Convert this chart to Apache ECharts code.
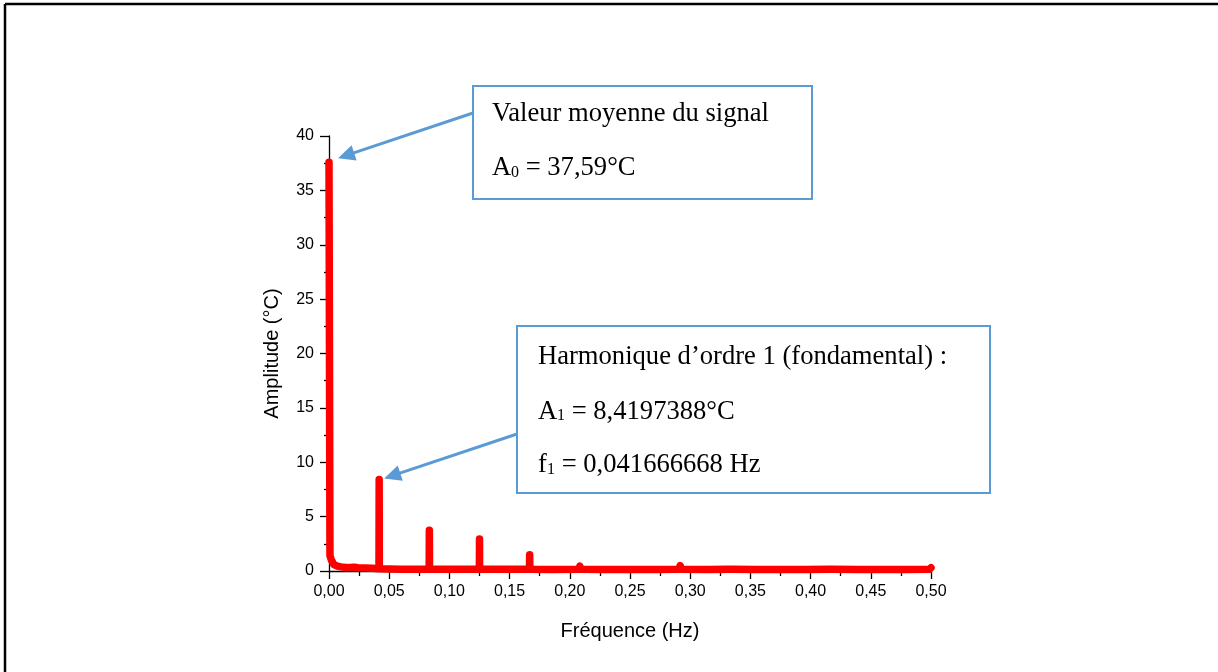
<!DOCTYPE html>
<html>
<head>
<meta charset="utf-8">
<script src="https://cdn.jsdelivr.net/npm/echarts@6/dist/echarts.min.js"></script>
<style>
  html, body { margin: 0; padding: 0; background: #ffffff; }
  #chart { width: 1218px; height: 672px; }
</style>
</head>
<body>
<div id="chart"></div>
<script>
// Amplitude spectrum of the temperature signal (frequency in Hz, amplitude in °C)
const freqHz = [
  0, 0.0008, 0.002, 0.004, 0.007, 0.010, 0.014, 0.018, 0.021, 0.024, 0.030, 0.036,
  0.0415, 0.041666668, 0.0418,
  0.050, 0.060, 0.070,
  0.0832, 0.08333, 0.0835,
  0.095, 0.110,
  0.1249, 0.125, 0.1251,
  0.140, 0.155,
  0.1665, 0.16667, 0.1668,
  0.185,
  0.2075, 0.20833, 0.2092,
  0.230,
  0.2492, 0.25, 0.2508,
  0.270,
  0.2908, 0.29167, 0.2925,
  0.315,
  0.3325, 0.33333, 0.3342,
  0.355,
  0.3742, 0.375, 0.3758,
  0.395,
  0.4158, 0.41667, 0.4175,
  0.440,
  0.4575, 0.45833, 0.4592,
  0.480, 0.4985, 0.500
];
const amplitudeC = [
  37.59, 1.4, 1.0, 0.6, 0.45, 0.38, 0.33, 0.32, 0.35, 0.30, 0.27, 0.25,
  0.20, 8.4197388, 0.20,
  0.18, 0.16, 0.17,
  0.17, 3.75, 0.17,
  0.15, 0.16,
  0.16, 2.95, 0.16,
  0.15, 0.15,
  0.15, 1.50, 0.15,
  0.14,
  0.15, 0.45, 0.15,
  0.14,
  0.14, 0.24, 0.14,
  0.14,
  0.15, 0.50, 0.15,
  0.14,
  0.15, 0.33, 0.15,
  0.14,
  0.14, 0.28, 0.14,
  0.14,
  0.15, 0.33, 0.15,
  0.14,
  0.14, 0.28, 0.14,
  0.14, 0.15, 0.30
];

// Axis ranges: [min, max, step]
const xRange = [0, 0.5, 0.05];
const yRange = [0, 40, 5];

// Annotated values
const meanValue = { f: 0, a: 37.59, title: 'Valeur moyenne du signal', sym: 'A', sub: '0', rest: ' = 37,59°C' };
const fundamental = {
  f: 0.041666668, a: 8.4197388,
  title: 'Harmonique d\u2019ordre 1 (fondamental) :',
  lineA: { sym: 'A', sub: '1', rest: ' = 8,4197388°C' },
  lineF: { sym: 'f', sub: '1', rest: ' = 0,041666668 Hz' }
};

const BLUE = '#5B9BD5';
const SANS = '"Liberation Sans", Arial, sans-serif';
const SERIF = '"Liberation Serif", "Times New Roman", serif';
const NOTE_SIZE = 26.6;

const chart = echarts.init(document.getElementById('chart'), null, { renderer: 'canvas' });

const seriesData = freqHz.map((f, i) => [f, amplitudeC[i]]);

chart.setOption({
  animation: false,
  backgroundColor: '#ffffff',
  grid: { left: 329, right: 287, top: 136, bottom: 101, containLabel: false },
  xAxis: {
    type: 'value',
    min: xRange[0], max: xRange[1], interval: xRange[2],
    name: 'Fréquence (Hz)',
    nameLocation: 'middle',
    nameGap: 50,
    nameTextStyle: { fontFamily: SANS, fontSize: 20, color: '#000' },
    axisLine: { onZero: false, lineStyle: { color: '#000', width: 1.3 } },
    axisTick: { show: true, inside: false, length: 8, lineStyle: { color: '#000', width: 1.3 } },
    minorTick: { show: true, splitNumber: 2, length: 5, lineStyle: { color: '#000', width: 1.3 } },
    splitLine: { show: false },
    axisLabel: {
      margin: 13, fontFamily: SANS, fontSize: 16, color: '#000',
      formatter: v => v.toFixed(2).replace('.', ',')
    }
  },
  yAxis: {
    type: 'value',
    min: yRange[0], max: yRange[1], interval: yRange[2],
    name: 'Amplitude (°C)',
    nameLocation: 'middle',
    nameGap: 47,
    nameTextStyle: { fontFamily: SANS, fontSize: 20, color: '#000' },
    axisLine: { show: true, lineStyle: { color: '#000', width: 1.3 } },
    axisTick: { show: true, inside: false, length: 9, lineStyle: { color: '#000', width: 1.3 } },
    minorTick: { show: true, splitNumber: 2, length: 5, lineStyle: { color: '#000', width: 1.3 } },
    splitLine: { show: false },
    axisLabel: { margin: 15, fontFamily: SANS, fontSize: 16, color: '#000' }
  },
  series: [{
    type: 'line',
    data: seriesData,
    showSymbol: false,
    symbol: 'none',
    clip: true,
    lineStyle: { color: '#ff0000', width: 7.5, cap: 'round', join: 'round' },
    z: 3
  }]
});

// Arrow (shaft + head) from (x0, y0) to the tip (x1, y1)
function arrow(x0, y0, x1, y1) {
  const dx = x1 - x0, dy = y1 - y0;
  const len = Math.hypot(dx, dy);
  const ux = dx / len, uy = dy / len;
  const head = 17, half = 8;
  const bx = x1 - ux * head, by = y1 - uy * head;
  return [
    { type: 'line', z: 10, shape: { x1: x0, y1: y0, x2: bx + ux * 2, y2: by + uy * 2 },
      style: { stroke: BLUE, lineWidth: 3 } },
    { type: 'polygon', z: 10,
      shape: { points: [[x1, y1], [bx - uy * half, by + ux * half], [bx + uy * half, by - ux * half]] },
      style: { fill: BLUE } }
  ];
}

function box(x, y, w, h) {
  return { type: 'rect', z: 10, shape: { x, y, width: w, height: h },
    style: { fill: '#ffffff', stroke: BLUE, lineWidth: 2 } };
}

function txt(x, y, text, size) {
  return { type: 'text', z: 11, x, y,
    style: { text, fontFamily: SERIF, fontSize: size, fill: '#000', align: 'left', verticalAlign: 'middle' } };
}

// "X₀ = ..." line: symbol, smaller subscript, then the rest of the text
function subLine(x, yMid, symWidth, parts) {
  return [
    txt(x, yMid, parts.sym, NOTE_SIZE),
    txt(x + symWidth, yMid + 4, parts.sub, 16),
    txt(x + symWidth + 8, yMid, parts.rest, NOTE_SIZE)
  ];
}

const pMean = chart.convertToPixel({ seriesIndex: 0 }, [meanValue.f, meanValue.a]);
const pFund = chart.convertToPixel({ seriesIndex: 0 }, [fundamental.f, fundamental.a]);

const graphics = [
  // page frame
  { type: 'line', z: 20, shape: { x1: 5, y1: 4, x2: 1218, y2: 4 }, style: { stroke: '#000', lineWidth: 2.5 } },
  { type: 'line', z: 20, shape: { x1: 5, y1: 4, x2: 5, y2: 672 }, style: { stroke: '#000', lineWidth: 2.5 } },

  // mean value note
  box(473, 86, 339, 113),
  txt(492, 114.5, meanValue.title, NOTE_SIZE),
  ...subLine(492, 168.5, 19, meanValue),
  ...arrow(473, 113, pMean[0] + 9, pMean[1] - 4),

  // fundamental note
  box(517, 326, 473, 167),
  txt(538, 357, fundamental.title, NOTE_SIZE),
  ...subLine(538, 412, 19, fundamental.lineA),
  ...subLine(538, 465.5, 9, fundamental.lineF),
  ...arrow(517, 434, pFund[0] + 5, pFund[1] - 1)
];

chart.setOption({ graphic: graphics });
</script>
</body>
</html>
